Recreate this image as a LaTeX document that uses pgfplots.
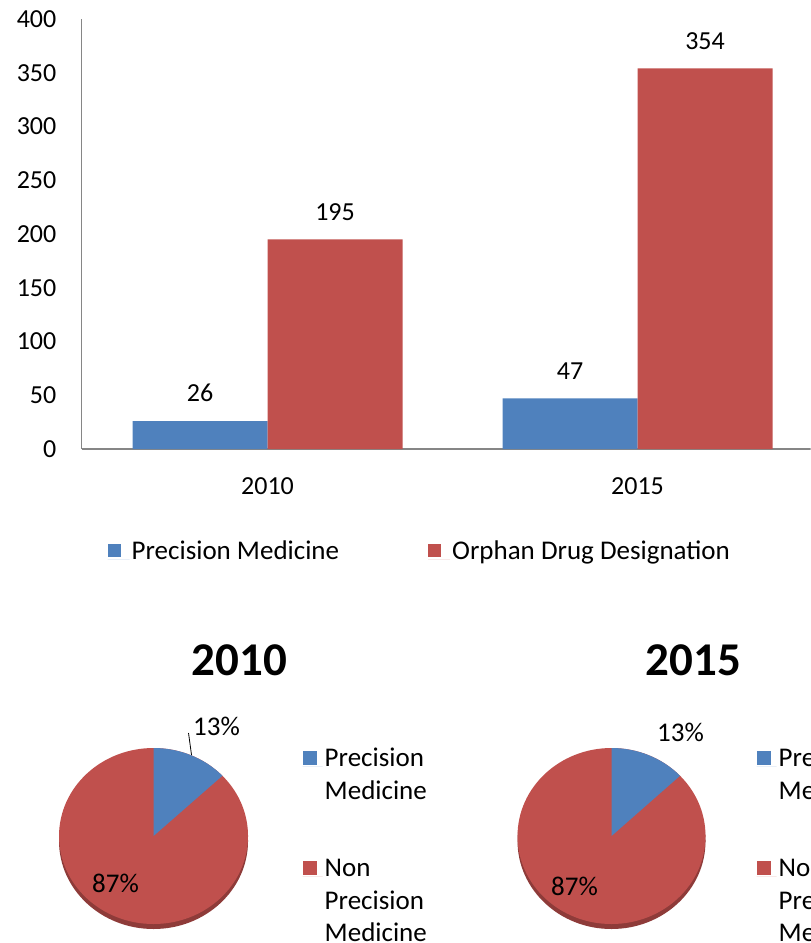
\documentclass[border=0pt]{standalone}
\usepackage{fontspec}
\setmainfont{Carlito}
\usepackage{pgfplots}
\usepackage{pgfplotstable}
\pgfplotsset{compat=1.18}
\definecolor{pmblue}{HTML}{4F81BD}
\definecolor{odred}{HTML}{C0504D}
\definecolor{odshadow}{HTML}{8E3B39}
\definecolor{axgray}{HTML}{868686}
\newcommand\fs{\fontsize{26}{32.5}\selectfont}
\newcommand\fl{\fontsize{27}{32.5}\selectfont}

\pgfplotstableread{
year pm od
0 26 195
1 47 354
}\bardata

\pgfplotstableread{
label pct
PM 13
NPM 87
}\pieA

\pgfplotstableread{
label pct
PM 13
NPM 87
}\pieB

\begin{document}
\pgfplotstablegetelem{0}{pct}\of\pieA
\pgfmathsetmacro\angA{90-3.6*\pgfplotsretval}
\pgfplotstablegetelem{0}{pct}\of\pieB
\pgfmathsetmacro\angB{90-3.6*\pgfplotsretval}
\begin{tikzpicture}
\useasboundingbox (0,0) rectangle (806pt,-943pt);
\clip (0,0) rectangle (806pt,-943pt);
% ---------------- bar chart
\begin{axis}[
  at={(77pt,-449pt)}, anchor=south west,
  scale only axis, width=742pt, height=430pt,
  xmin=-0.5027, xmax=1.5027, ymin=0, ymax=400,
  axis lines*=left,
  axis line style={axgray, line width=1.2pt},
  ytick={0,50,...,400},
  xtick={0,1}, xticklabels={2010,2015},
  major tick length=0pt,
  /pgf/number format/assume math mode=true,
  tick label style={font=\fs},
  yticklabel style={anchor=east, inner sep=0pt, xshift=-25pt},
  xticklabel style={anchor=north, inner sep=0pt, yshift=-28pt},
  ybar=0pt, bar width=135pt,
  nodes near coords,
  every node near coord/.append style={font=\fs, black, inner sep=0pt, anchor=south, yshift=19pt},
  legend columns=2,
  legend image code/.code={\fill[#1] (0pt,2.5pt) rectangle (13pt,15.5pt); \path (0pt,0pt) -- (22pt,0pt);},
  legend style={draw=none, fill=none, inner sep=0pt, font=\fl,
    at={(0.035,-0.236)}, anchor=west,
    cells={anchor=base west},
    /tikz/every even column/.append style={column sep=87pt}},
]
\addplot[fill=pmblue, draw=none] table[x=year, y=pm] {\bardata};
\addplot[fill=odred, draw=none] table[x=year, y=od] {\bardata};
\legend{Precision Medicine, Orphan Drug Designation}
\end{axis}
% ---------------- pie 2010
\begin{axis}[
  at={(149pt,-836pt)}, anchor=center,
  scale only axis, x=1pt, y=1pt,
  xmin=-100, xmax=100, ymin=-100, ymax=100,
  hide axis, clip=false,
  legend image code/.code={\fill[#1] (0pt,2pt) rectangle (14pt,16pt); \path (0pt,0pt) -- (20pt,0pt);},
  legend style={draw=none, fill=none, inner sep=0pt, font=\fl,
    at={(1.245,0.95)}, anchor=north west, row sep=87pt,
    cells={anchor=base west}},
]
\fill[odshadow] (axis cs:0,-5) ellipse [x radius=94.5pt, y radius=88pt];
\fill[odred] (axis cs:0,0) ellipse [x radius=94.5pt, y radius=88pt];
\fill[pmblue] (axis cs:0,0) -- ++(90:94.5pt and 88pt) arc[start angle=90, end angle=\angA, x radius=94.5pt, y radius=88pt] -- cycle;
\draw[black, line width=0.8pt] (axis cs:35,103) -- (axis cs:38,81);
\node[font=\fl] at (axis cs:63,110) {13\%};
\node[font=\fl] at (axis cs:-38,-47) {87\%};
\node[font=\fontsize{47}{56}\selectfont\bfseries] at (axis cs:86,176) {2010};
\addlegendimage{fill=pmblue, draw=none}
\addlegendentry{\parbox[t]{130pt}{Precision\\Medicine}}
\addlegendimage{fill=odred, draw=none}
\addlegendentry{\parbox[t]{130pt}{Non\\Precision\\Medicine}}
\end{axis}
% ---------------- pie 2015
\begin{axis}[
  at={(607pt,-836pt)}, anchor=center,
  scale only axis, x=1pt, y=1pt,
  xmin=-100, xmax=100, ymin=-100, ymax=100,
  hide axis, clip=false,
  legend image code/.code={\fill[#1] (0pt,2pt) rectangle (14pt,16pt); \path (0pt,0pt) -- (20pt,0pt);},
  legend style={draw=none, fill=none, inner sep=0pt, font=\fl,
    at={(1.225,0.95)}, anchor=north west, row sep=87pt,
    cells={anchor=base west}},
]
\fill[odshadow] (axis cs:0,-5) ellipse [x radius=94pt, y radius=88pt];
\fill[odred] (axis cs:0,0) ellipse [x radius=94pt, y radius=88pt];
\fill[pmblue] (axis cs:0,0) -- ++(90:94pt and 88pt) arc[start angle=90, end angle=\angB, x radius=94pt, y radius=88pt] -- cycle;
\node[font=\fl] at (axis cs:69,104) {13\%};
\node[font=\fl] at (axis cs:-37,-50) {87\%};
\node[font=\fontsize{47}{56}\selectfont\bfseries] at (axis cs:82,176) {2015};
\addlegendimage{fill=pmblue, draw=none}
\addlegendentry{\parbox[t]{130pt}{Precision\\Medicine}}
\addlegendimage{fill=odred, draw=none}
\addlegendentry{\parbox[t]{130pt}{Non\\Precision\\Medicine}}
\end{axis}
\end{tikzpicture}
\end{document}
